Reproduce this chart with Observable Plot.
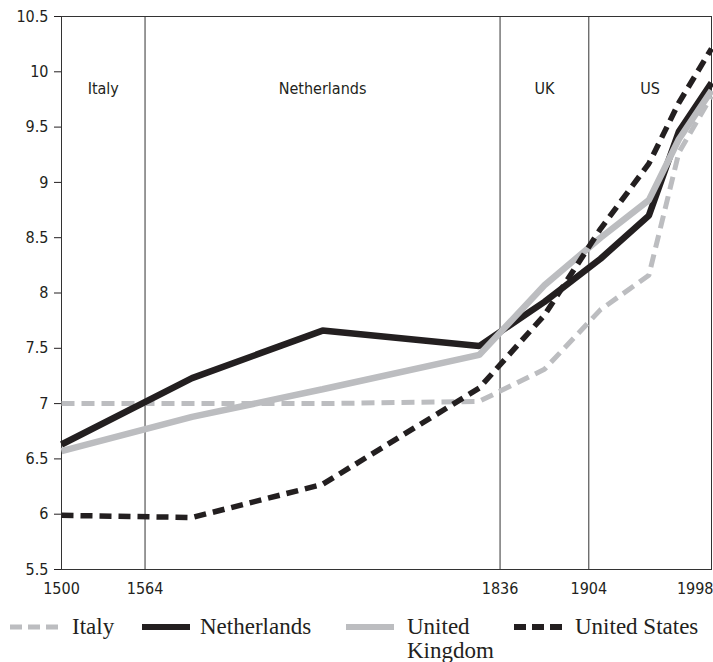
<!DOCTYPE html>
<html>
<head>
<meta charset="utf-8">
<script src="https://cdn.jsdelivr.net/npm/d3@7"></script>
<script src="https://cdn.jsdelivr.net/npm/@observablehq/plot@0.6"></script>
<style>
  html, body { margin: 0; padding: 0; background: #fff; }
  #wrap { position: relative; width: 713px; height: 662px; overflow: hidden; }
  #chart { position: absolute; left: 0; top: 0; }
  .leg-item { position: absolute; top: 614px; font-family: "Liberation Serif", "Times New Roman", serif; font-size: 23px; line-height: 25px; color: #231f20; white-space: nowrap; }
  .leg-sw { position: absolute; top: 623px; }
</style>
</head>
<body>
<div id="wrap"><div id="chart"></div></div>
<script>
// ---- data ----
const years = [1500, 1600, 1700, 1820, 1870, 1913, 1950, 1973, 1998];
const italy = [7.00, 7.00, 7.00, 7.02, 7.31, 7.85, 8.16, 9.27, 9.78];
const netherlands = [6.63, 7.23, 7.66, 7.52, 7.92, 8.31, 8.70, 9.46, 9.90];
const unitedKingdom = [6.57, 6.88, 7.13, 7.44, 8.07, 8.50, 8.84, 9.39, 9.83];
const unitedStates = [5.99, 5.97, 6.27, 7.14, 7.80, 8.58, 9.17, 9.72, 10.21];

const seriesNames = ["Italy", "Netherlands", "United Kingdom", "United States"];
const legendLines = [["Italy"], ["Netherlands"], ["United", "Kingdom"], ["United States"]];
const xTicks = [1500, 1564, 1836, 1904, 1998];
const yTicks = [5.5, 6, 6.5, 7, 7.5, 8, 8.5, 9, 9.5, 10, 10.5];
const dividers = [1564, 1836, 1904];
const eraBounds = [1500, 1564, 1836, 1904, 1998];
const eraNames = ["Italy", "Netherlands", "UK", "US"];

// ---- styles ----
const BLACK = "#231f20";
const GRAY = "#bcbdc0";
const styles = {
  "Italy": {stroke: GRAY, strokeWidth: 5, dash: "13,7"},
  "Netherlands": {stroke: BLACK, strokeWidth: 6.5, dash: null},
  "United Kingdom": {stroke: GRAY, strokeWidth: 6.5, dash: null},
  "United States": {stroke: BLACK, strokeWidth: 5.5, dash: "12,7"}
};

const valuesBySeries = [italy, netherlands, unitedKingdom, unitedStates];
const rows = seriesNames.map((name, i) => years.map((yr, j) => ({series: name, year: yr, value: valuesBySeries[i][j]})));
const eras = eraNames.map((n, i) => ({name: n, mid: (eraBounds[i] + eraBounds[i + 1]) / 2}));

const drawOrder = ["Italy", "Netherlands", "United Kingdom", "United States"];

const plot = Plot.plot({
  width: 713,
  height: 604,
  marginLeft: 61,
  marginRight: 2,
  marginTop: 16,
  marginBottom: 35,
  x: {domain: [1500, 1998]},
  y: {domain: [5.5, 10.5]},
  style: {fontFamily: "'DejaVu Sans Condensed', 'DejaVu Sans', sans-serif", fontSize: "16px", color: BLACK, background: "white"},
  marks: [
    Plot.ruleX(dividers, {stroke: "#333", strokeWidth: 1}),
    Plot.frame({stroke: "#333", strokeWidth: 1}),
    Plot.axisY({ticks: yTicks, tickSize: 7, tickPadding: 6, label: null, tickFormat: d => String(d)}),
    Plot.axisX({ticks: xTicks, tickSize: 0, tickPadding: 13, label: null, tickFormat: d => String(d)}),
    Plot.text(eras, {x: "mid", y: () => 9.85, text: "name", fontSize: 16, fill: BLACK}),
    ...drawOrder.map(name => {
      const s = styles[name];
      const data = rows[seriesNames.indexOf(name)];
      return Plot.line(data, {
        x: "year", y: "value",
        stroke: s.stroke, strokeWidth: s.strokeWidth,
        strokeDasharray: s.dash || undefined,
        strokeLinecap: "butt", strokeLinejoin: "miter"
      });
    })
  ]
});

// shift last x tick label so it fits inside the page
const xl = plot.querySelectorAll('g[aria-label="x-axis tick label"] text');
if (xl.length) {
  const last = xl[xl.length - 1];
  last.setAttribute("text-anchor", "end");
  last.setAttribute("dx", "2");
}

document.getElementById("chart").appendChild(plot);

// ---- legend ----
const wrap = document.getElementById("wrap");
const swLeft = [10, 142, 346, 514];
const txtLeft = [72, 200, 407, 575];
seriesNames.forEach((name, i) => {
  const s = styles[name];
  const sw = document.createElementNS("http://www.w3.org/2000/svg", "svg");
  sw.setAttribute("width", 48);
  sw.setAttribute("height", 8);
  sw.setAttribute("class", "leg-sw");
  sw.style.left = swLeft[i] + "px";
  const ln = document.createElementNS("http://www.w3.org/2000/svg", "line");
  ln.setAttribute("x1", 0); ln.setAttribute("x2", 48);
  ln.setAttribute("y1", 4); ln.setAttribute("y2", 4);
  ln.setAttribute("stroke", s.stroke);
  ln.setAttribute("stroke-width", name === "Italy" ? 5 : 6);
  if (s.dash) ln.setAttribute("stroke-dasharray", "12,6");
  sw.appendChild(ln);
  wrap.appendChild(sw);
  legendLines[i].forEach((txt, k) => {
    const t = document.createElement("div");
    t.className = "leg-item";
    t.style.left = txtLeft[i] + "px";
    t.style.top = (614 + k * 24) + "px";
    t.textContent = txt;
    wrap.appendChild(t);
  });
});
</script>
</body>
</html>
